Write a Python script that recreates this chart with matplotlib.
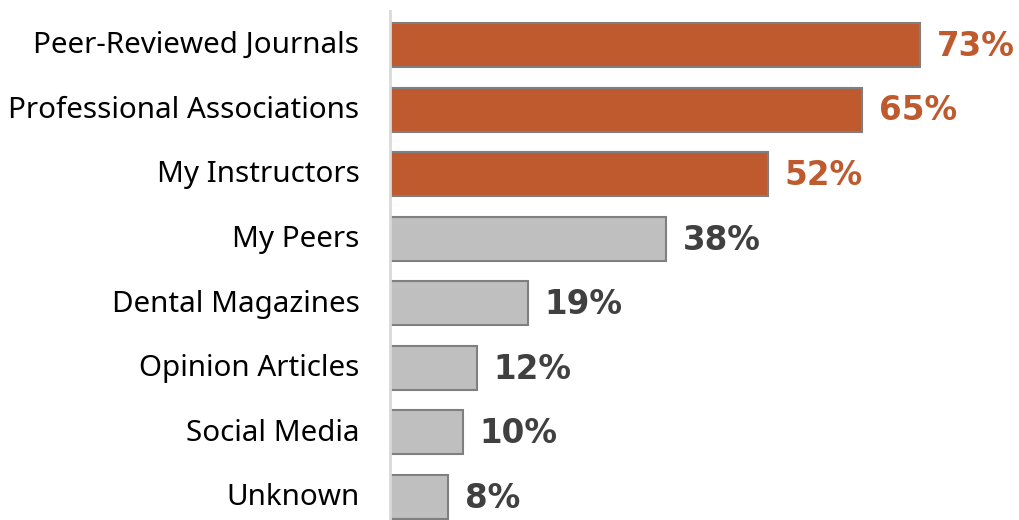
import matplotlib
matplotlib.use("Agg")
import matplotlib.pyplot as plt
from matplotlib.transforms import ScaledTranslation

plt.rcParams["font.family"] = ["Noto Sans", "DejaVu Sans"]

# data
categories = ["Peer-Reviewed Journals", "Professional Associations", "My Instructors",
              "My Peers", "Dental Magazines", "Opinion Articles", "Social Media", "Unknown"]
values = [73, 65, 52, 38, 19, 12, 10, 8]
highlight = [True, True, True, False, False, False, False, False]

orange = "#be5a2e"
grey = "#bfbfbf"
dark = "#404040"

fig = plt.figure(figsize=(10.2, 5.2), dpi=100)
ax = fig.add_axes([390 / 1020, 0, 630 / 1020, 509 / 520])

ypos = list(range(len(categories)))
colors = [orange if h else grey for h in highlight]
ax.barh(ypos, values, height=0.68, color=colors, edgecolor="#7f7f7f", linewidth=1.5)

# value labels (bold)
for y, v, h in zip(ypos, values, highlight):
    ax.annotate(f"{v}%", xy=(v, y), xytext=(12, -1), textcoords="offset points",
                ha="left", va="center", fontsize=23.5, fontweight="bold",
                family="DejaVu Sans", color=orange if h else dark)

ax.set_yticks(ypos)
ax.set_yticklabels(categories, fontsize=21.3, color="#000000")
ax.tick_params(axis="y", length=0, pad=22)
# nudge category labels up a touch
shift = ScaledTranslation(0, 2 / 72, fig.dpi_scale_trans)
for lab in ax.get_yticklabels():
    lab.set_transform(lab.get_transform() + shift)
ax.set_xticks([])
ax.set_xlim(0, 630 / 7.26)
ax.set_ylim(7.356, -0.527)

for s in ["top", "right", "bottom"]:
    ax.spines[s].set_visible(False)
ax.spines["left"].set_color("#d9d9d9")
ax.spines["left"].set_linewidth(2)

fig.savefig("out.png", dpi=100)
